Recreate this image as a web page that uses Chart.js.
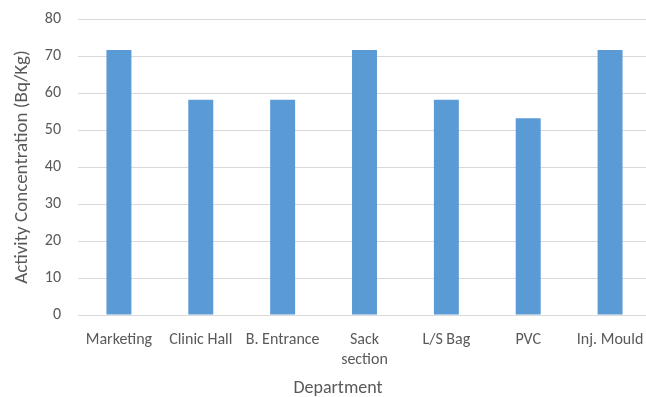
<!DOCTYPE html>
<html>
<head>
<meta charset="utf-8">
<script src="https://cdn.jsdelivr.net/npm/chart.js@4/dist/chart.umd.min.js"></script>
<style>
  html, body { margin: 0; padding: 0; background: #ffffff; overflow: hidden; }
  #wrap { width: 646px; height: 397px; overflow: hidden; }
  canvas { display: block; }
</style>
</head>
<body>
<div id="wrap"><canvas id="c" width="651" height="397"></canvas></div>
<script>
// Department names (multi-line entries wrap onto two lines)
const departments = ['Marketing', 'Clinic Hall', 'B. Entrance', ['Sack', 'section'], 'L/S Bag', 'PVC', 'Inj. Mould'];
// Activity concentration per department, Bq/Kg
const activity = [71.6, 58.2, 58.2, 71.6, 58.2, 53.2, 71.6];
// Value axis range
const yMin = 0;
const yMax = 80;
const yStep = 10;
const xAxisTitle = 'Department';

const FONT = "Carlito, Calibri, Lato, 'Open Sans', sans-serif";
const GREY = '#595959';

// Category axis title, centred under the whole figure rather than the plot
const xTitlePlugin = {
  id: 'xTitle',
  afterDraw(chart) {
    const ctx = chart.ctx;
    ctx.save();
    ctx.fillStyle = GREY;
    ctx.font = '18px ' + FONT;
    ctx.textAlign = 'center';
    ctx.textBaseline = 'middle';
    ctx.fillText(xAxisTitle, 338, 388);
    ctx.restore();
  }
};

new Chart(document.getElementById('c'), {
  type: 'bar',
  data: {
    labels: departments,
    datasets: [{
      data: activity,
      backgroundColor: '#5b9bd5',
      borderWidth: 0,
      barPercentage: 0.305,
      categoryPercentage: 1.0
    }]
  },
  options: {
    responsive: false,
    animation: false,
    devicePixelRatio: 1,
    layout: { padding: { top: 19, right: 0, bottom: 0, left: 0 } },
    plugins: { legend: { display: false }, tooltip: { enabled: false } },
    scales: {
      x: {
        grid: { display: false, drawTicks: false },
        border: { display: false },
        ticks: { color: GREY, font: { family: FONT, size: 16, lineHeight: 1.25 }, padding: 15, maxRotation: 0, autoSkip: false },
        afterFit: (s) => { s.height = 82; s.paddingLeft = 0; s.paddingRight = 0; }
      },
      y: {
        min: yMin,
        max: yMax,
        grid: { color: '#d9d9d9', lineWidth: 1, drawTicks: false },
        border: { display: false },
        ticks: { stepSize: yStep, color: GREY, font: { family: FONT, size: 16 }, padding: 17 },
        title: { display: true, text: 'Activity Concentration (Bq/Kg)', color: GREY, font: { family: FONT, size: 19 }, padding: { top: 11, bottom: 0 } },
        afterFit: (s) => { s.width = 78; s.paddingTop = 0; s.paddingBottom = 0; }
      }
    }
  },
  plugins: [xTitlePlugin]
});
</script>
</body>
</html>
